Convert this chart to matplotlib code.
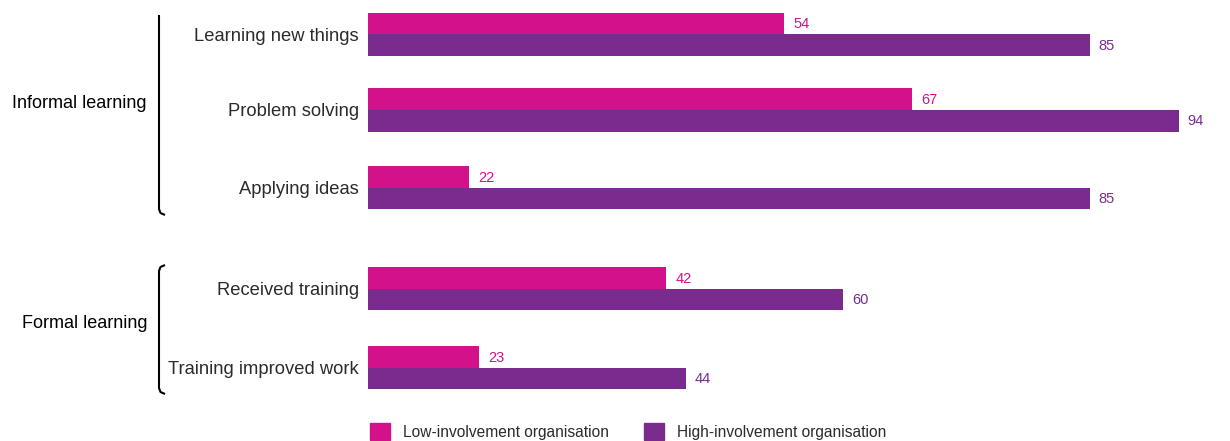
import matplotlib.pyplot as plt
from matplotlib.patches import Patch
import numpy as np

# Data
categories = ["Learning new things", "Problem solving", "Applying ideas",
              "Received training", "Training improved work"]
low_involvement = [54, 67, 22, 42, 23]
high_involvement = [85, 94, 85, 60, 44]
positions = [0, 0.98, 1.99, 3.3, 4.33]
group_names = ["Informal learning", "Formal learning"]
series_names = ["Low-involvement organisation", "High-involvement organisation"]

PINK = "#D3118A"
PURPLE = "#7A2C8E"
TEXT = "#2b2b2b"

plt.rcParams['font.family'] = ['Liberation Sans', 'DejaVu Sans']

W, H = 1230, 441
fig = plt.figure(figsize=(W / 100, H / 100), dpi=100)
ax = fig.add_axes([368 / W, 41 / H, (1215 - 368) / W, 400 / H])

y = np.array(positions)
bh = 0.28
ax.barh(y - bh / 2, low_involvement, height=bh, color=PINK)
ax.barh(y + bh / 2, high_involvement, height=bh, color=PURPLE)
ax.set_xlim(11.75, 97.7)
ax.set_ylim(4.747, -0.448)

# Value labels
for yy, v in zip(y, low_involvement):
    ax.annotate(str(v), (v, yy - bh / 2), xytext=(6.5, -0.5), textcoords="offset points",
                ha="left", va="center", color=PINK, fontsize=10.5)
for yy, v in zip(y, high_involvement):
    ax.annotate(str(v), (v, yy + bh / 2), xytext=(6.5, -0.5), textcoords="offset points",
                ha="left", va="center", color=PURPLE, fontsize=10.5)

ax.set_yticks(y, categories)
ax.set_xticks([])
ax.tick_params(axis="y", length=0, pad=6.5, labelsize=13.2, labelcolor=TEXT)
for s in ax.spines.values():
    s.set_visible(False)

# Group brackets and labels (overlay in pixel coordinates)
ov = fig.add_axes([0, 0, 1, 1], zorder=-1)
ov.set_xlim(0, W)
ov.set_ylim(H, 0)
ov.axis("off")
ov.plot([159, 159, 160.5, 165], [15, 209, 213, 215], color="black", lw=1.5,
        solid_capstyle="butt")
ov.plot([165, 160.5, 159, 159, 160.5, 165], [265, 267, 271, 388, 392, 394],
        color="black", lw=1.5, solid_capstyle="butt")
ov.text(147, 104, group_names[0], ha="right", va="center", fontsize=13, color="black")
ov.text(147, 323, group_names[1], ha="right", va="center", fontsize=13, color="black")

# Legend
handles = [Patch(color=PINK, label=series_names[0]),
           Patch(color=PURPLE, label=series_names[1])]
fig.legend(handles=handles, loc="lower left", bbox_to_anchor=(370 / W, 1 / H),
           ncol=2, frameon=False, fontsize=11.2, handlelength=1.3, handleheight=1.3,
           handletextpad=0.85, columnspacing=2.2, borderpad=0, borderaxespad=0,
           labelcolor=TEXT)

fig.savefig("out.png", dpi=100)
